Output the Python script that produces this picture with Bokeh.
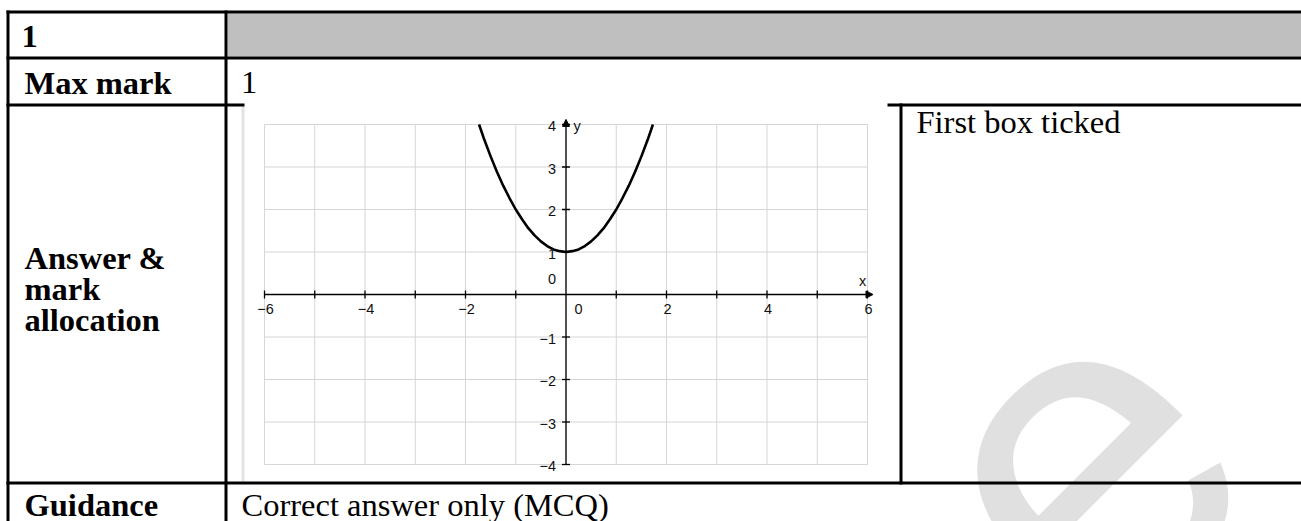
from bokeh.plotting import figure
from bokeh.models import Range1d, Arrow, NormalHead
from bokeh.core.properties import value
from bokeh.embed import file_html
from bokeh.resources import INLINE

# ---- chart data -------------------------------------------------------
# points on the graph of y = f(x)
curve_x = [-1.73, -1.625, -1.5, -1.375, -1.25, -1.125, -1.0, -0.875, -0.75,
           -0.625, -0.5, -0.375, -0.25, -0.125, 0.0, 0.125, 0.25, 0.375,
           0.5, 0.625, 0.75, 0.875, 1.0, 1.125, 1.25, 1.375, 1.5, 1.625, 1.73]
curve_y = [4.0, 3.64, 3.25, 2.89, 2.56, 2.27, 2.0, 1.77, 1.56,
           1.39, 1.25, 1.14, 1.06, 1.02, 1.0, 1.02, 1.06, 1.14,
           1.25, 1.39, 1.56, 1.77, 2.0, 2.27, 2.56, 2.89, 3.25, 3.64, 4.0]

grid_x = [-6, -5, -4, -3, -2, -1, 0, 1, 2, 3, 4, 5, 6]
grid_y = [-4, -3, -2, -1, 0, 1, 2, 3, 4]

x_tick_vals = [-6, -5, -4, -3, -2, -1, 1, 2, 3, 4, 5, 6]
y_tick_vals = [-4, -3, -2, -1, 1, 2, 3, 4]

x_label_vals = [-6, -4, -2, 2, 4, 6]
x_label_text = ["\u22126", "\u22124", "\u22122", "2", "4", "6"]
y_label_vals = [-4, -3, -2, -1, 1, 2, 3, 4]
y_label_text = ["\u22124", "\u22123", "\u22122", "\u22121", "1", "2", "3", "4"]

x_min, x_max = -6, 6
y_min, y_max = -4, 4
x_arrow_tip = 6.11
y_arrow_tip = 4.12

# ---- page layout (pixels) --------------------------------------------
W, H = 1301, 521
ORIGIN_PX = (565.5, 294.0)          # where (0, 0) of the chart sits
UNIT_PX = (50.25, 42.5)             # pixels per unit in x and y

x_range = Range1d(-ORIGIN_PX[0] / UNIT_PX[0], (W - ORIGIN_PX[0]) / UNIT_PX[0])
y_range = Range1d(-(H - ORIGIN_PX[1]) / UNIT_PX[1], ORIGIN_PX[1] / UNIT_PX[1])

p = figure(width=W, height=H, x_range=x_range, y_range=y_range,
           x_axis_type=None, y_axis_type=None,
           output_backend="svg", toolbar_location=None,
           min_border=0, outline_line_color=None,
           background_fill_color="white", border_fill_color="white")
p.extra_x_ranges = {"page": Range1d(0, W)}
p.extra_y_ranges = {"page": Range1d(H, 0)}
PG = dict(x_range_name="page", y_range_name="page")

SERIF = value("Liberation Serif")
SANS = value("Liberation Sans")

# faint watermark letters behind the table
p.text(x=[1162, 990], y=[366, 538], text=["e", "m"], angle=45, angle_units="deg",
       text_align="right", text_baseline="alphabetic",
       text_font=SANS, text_font_size="460px", text_color="#e0e0e0", **PG)

# the pasted graph image (opaque white with a faint left edge)
p.quad(left=[244], right=[899], top=[106], bottom=[481],
       fill_color="white", line_color=None, **PG)
p.quad(left=[241], right=[244], top=[106], bottom=[481],
       fill_color="#e3e3e3", line_color=None, **PG)

# header shading
p.quad(left=[227], right=[W], top=[13], bottom=[56],
       fill_color="#bfbfbf", line_color=None, **PG)

# table rules: left, right, top, bottom
rule_l = [6, 6, 6, 887, 6, 6, 224, 899]
rule_r = [W, W, 244, W, W, 9, 227, 902]
rule_t = [10, 56, 103, 103, 481, 10, 10, 103]
rule_b = [13, 59, 106, 106, 484, H, H, 484]
p.quad(left=rule_l, right=rule_r, top=rule_t, bottom=rule_b,
       fill_color="black", line_color=None, **PG)

# ---- graph ------------------------------------------------------------
p.segment(x0=grid_x, y0=[y_min] * len(grid_x), x1=grid_x, y1=[y_max] * len(grid_x),
          line_color="#d6d6d6", line_width=1)
p.segment(x0=[x_min] * len(grid_y), y0=grid_y, x1=[x_max] * len(grid_y), y1=grid_y,
          line_color="#d6d6d6", line_width=1)

p.line(curve_x, curve_y, line_color="black", line_width=2.6, line_join="round")

head = dict(size=7, fill_color="black", line_color="black", line_width=1)
p.add_layout(Arrow(end=NormalHead(**head), x_start=x_min, y_start=0,
                   x_end=x_arrow_tip, y_end=0, line_color="black", line_width=1.3))
p.add_layout(Arrow(end=NormalHead(**head), x_start=0, y_start=y_min,
                   x_end=0, y_end=y_arrow_tip, line_color="black", line_width=1.3))

p.scatter(x=x_tick_vals, y=[0] * len(x_tick_vals), marker="dash", size=8,
          angle=90, angle_units="deg", line_color="black", line_width=1.3)
p.scatter(x=[0] * len(y_tick_vals), y=y_tick_vals, marker="dash", size=8,
          line_color="black", line_width=1.3)

lab = dict(text_font=SANS, text_font_size="14.5px", text_color="#111111",
           text_baseline="alphabetic")
p.text(x=x_label_vals, y=[0] * len(x_label_vals), text=x_label_text,
       text_align="center", x_offset=1, y_offset=14.2, **lab)
p.text(x=[0], y=[0], text=["0"], text_align="center", x_offset=12.5, y_offset=14.2, **lab)
p.text(x=[0] * len(y_label_vals), y=y_label_vals, text=y_label_text,
       text_align="right", x_offset=-10, y_offset=1.7, **lab)
p.text(x=[0], y=[0], text=["0"], text_align="right", x_offset=-10, y_offset=-15.8, **lab)
p.text(x=[0], y=[y_max], text=["y"], text_align="left", x_offset=7.5, y_offset=1.7, **lab)
p.text(x=[x_max], y=[0], text=["x"], text_align="center", x_offset=-5, y_offset=-13.8, **lab)

# ---- table text -------------------------------------------------------
bold = dict(text_font=SERIF, text_font_size="32.5px", text_font_style="bold",
            text_color="black", text_baseline="alphabetic", text_align="left")
plain = dict(text_font=SERIF, text_font_size="32.5px",
             text_color="black", text_baseline="alphabetic", text_align="left")

p.text(x=[21, 24, 24, 24, 24, 24],
       y=[36, 82, 257, 288, 319, 504],
       text=["1", "Max mark", "Answer &", "mark", "allocation", "Guidance"],
       **bold, **PG)
p.text(x=[240.5, 916, 241],
       y=[82, 121, 504],
       text=["1", "First box ticked", "Correct answer only (MCQ)"],
       **plain, **PG)

open("out.html", "w").write(file_html(p, INLINE))
